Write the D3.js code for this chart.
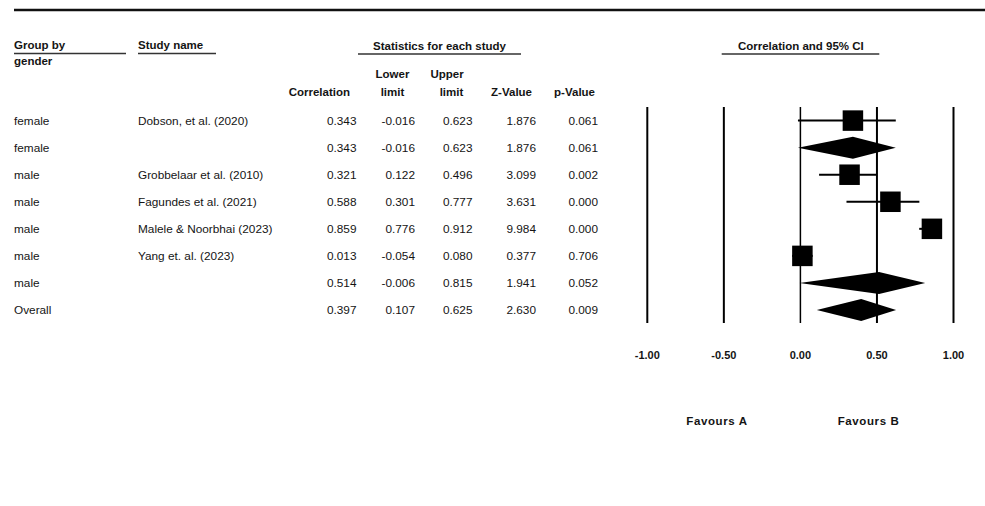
<!DOCTYPE html>
<html>
<head>
<meta charset="utf-8">
<script src="https://cdn.jsdelivr.net/npm/d3@7"></script>
<style>
  html, body { margin: 0; padding: 0; background: #fff; }
  svg { display: block; font-family: "Liberation Sans", Arial, sans-serif; }
  text { fill: #141414; }
</style>
</head>
<body>
<svg id="chart" width="985" height="506"></svg>
<script>
// Meta-analysis rows: subgroup, study, effect statistics
const groups = ["female", "female", "male", "male", "male", "male", "male", "Overall"];
const studies = ["Dobson, et al. (2020)", "", "Grobbelaar et al. (2010)", "Fagundes et al. (2021)",
                 "Malele & Noorbhai (2023)", "Yang et. al. (2023)", "", ""];
const rowTypes = ["study", "summary", "study", "study", "study", "study", "summary", "summary"];
const correlation = [0.343, 0.343, 0.321, 0.588, 0.859, 0.013, 0.514, 0.397];
const lowerLimit = [-0.016, -0.016, 0.122, 0.301, 0.776, -0.054, -0.006, 0.107];
const upperLimit = [0.623, 0.623, 0.496, 0.777, 0.912, 0.080, 0.815, 0.625];
const zValue = [1.876, 1.876, 3.099, 3.631, 9.984, 0.377, 1.941, 2.630];
const pValue = [0.061, 0.061, 0.002, 0.000, 0.000, 0.706, 0.052, 0.009];
const tickValues = [-1.0, -0.5, 0.0, 0.5, 1.0];
const favourLabels = ["Favours A", "Favours B"];

(function () {
const rows = groups.map((g, i) => ({
  i, group: g, study: studies[i], type: rowTypes[i],
  r: correlation[i], lo: lowerLimit[i], hi: upperLimit[i], z: zValue[i], p: pValue[i]
}));

const svg = d3.select("#chart");
const fmt3 = v => d3.format(".3f")(v).replace("\u2212", "-");
const fmt2 = v => d3.format(".2f")(v).replace("\u2212", "-");

// Scales for the forest plot
const x = d3.scaleLinear().domain([-1, 1]).range([647.3, 953.5]);
const y = d3.scalePoint().domain(d3.range(rows.length)).range([120.6, 310]);

// Top rule
svg.append("line").attr("x1", 14).attr("x2", 985).attr("y1", 10).attr("y2", 10)
  .attr("stroke", "#111").attr("stroke-width", 2.4);

// Header labels
const head = svg.append("g").attr("font-weight", "bold").attr("font-size", 11.5);
function headText(t, xx, yy, anchor) {
  head.append("text").attr("x", xx).attr("y", yy).attr("dy", "0.35em")
    .attr("text-anchor", anchor || "start").text(t);
}
function underline(x1, x2, yy) {
  svg.append("line").attr("x1", x1).attr("x2", x2).attr("y1", yy).attr("y2", yy)
    .attr("stroke", "#333").attr("stroke-width", 1.4);
}
headText("Group by", 14, 45);
headText("gender", 14, 61);
underline(14, 126, 53.5);
headText("Study name", 138, 45);
underline(138, 216, 53.5);
headText("Statistics for each study", 439.5, 46, "middle");
underline(358, 521, 54);
headText("Correlation", 350, 92.3, "end");
headText("Lower", 392.5, 74.3, "middle");
headText("limit", 392.5, 92.3, "middle");
headText("Upper", 447, 74.3, "middle");
headText("limit", 451.5, 92.3, "middle");
headText("Z-Value", 532, 92.3, "end");
headText("p-Value", 595, 92.3, "end");
headText("Correlation and 95%  CI", x(0.003), 46, "middle");
underline(721.7, 879.3, 54);

// Table body
const body = svg.append("g").attr("font-size", 11.8);
const cols = [
  { key: "group", x: 14, anchor: "start", f: d => d },
  { key: "study", x: 138, anchor: "start", f: d => d },
  { key: "r", x: 356.5, anchor: "end", f: fmt3 },
  { key: "lo", x: 415, anchor: "end", f: fmt3 },
  { key: "hi", x: 472.5, anchor: "end", f: fmt3 },
  { key: "z", x: 536, anchor: "end", f: fmt3 },
  { key: "p", x: 598, anchor: "end", f: fmt3 }
];
cols.forEach(c => {
  body.selectAll(null).data(rows).join("text")
    .attr("x", c.x).attr("y", d => y(d.i)).attr("dy", "0.35em")
    .attr("text-anchor", c.anchor)
    .text(d => c.f(d[c.key]));
});

// Reference lines at each tick
const lineTop = 107, lineBottom = 323;
svg.append("g").selectAll("line").data(tickValues).join("line")
  .attr("x1", d => x(d)).attr("x2", d => x(d))
  .attr("y1", lineTop).attr("y2", lineBottom)
  .attr("stroke", "#000").attr("stroke-width", d => d === 0 ? 1.5 : 2);

// Study markers: CI whisker + square
const studyRows = rows.filter(d => d.type === "study");
const plot = svg.append("g");
plot.selectAll("line.ci").data(studyRows).join("line").attr("class", "ci")
  .attr("x1", d => x(d.lo)).attr("x2", d => x(d.hi))
  .attr("y1", d => y(d.i)).attr("y2", d => y(d.i))
  .attr("stroke", "#000").attr("stroke-width", 2);
const sq = 20.5;
plot.selectAll("rect").data(studyRows).join("rect")
  .attr("x", d => x(d.r) - sq / 2).attr("y", d => y(d.i) - sq / 2)
  .attr("width", sq).attr("height", sq).attr("fill", "#000");

// Summary diamonds
const dh = 11;
plot.selectAll("path").data(rows.filter(d => d.type === "summary")).join("path")
  .attr("d", d => {
    const yy = y(d.i);
    return `M${x(d.lo)},${yy}L${x(d.r)},${yy - dh}L${x(d.hi)},${yy}L${x(d.r)},${yy + dh}Z`;
  })
  .attr("fill", "#000");

// Axis tick labels
svg.append("g").attr("font-weight", "bold").attr("font-size", 11)
  .selectAll("text").data(tickValues).join("text")
  .attr("x", d => x(d)).attr("y", 355).attr("dy", "0.35em")
  .attr("text-anchor", "middle").text(fmt2);

// Direction labels
svg.append("g").attr("font-weight", "bold").attr("font-size", 11.5)
  .attr("letter-spacing", 0.6)
  .selectAll("text").data(favourLabels).join("text")
  .attr("x", (d, i) => i === 0 ? x(-0.545) : x(0.445)).attr("y", 421).attr("dy", "0.35em")
  .attr("text-anchor", "middle").text(d => d);
})();
</script>
</body>
</html>
